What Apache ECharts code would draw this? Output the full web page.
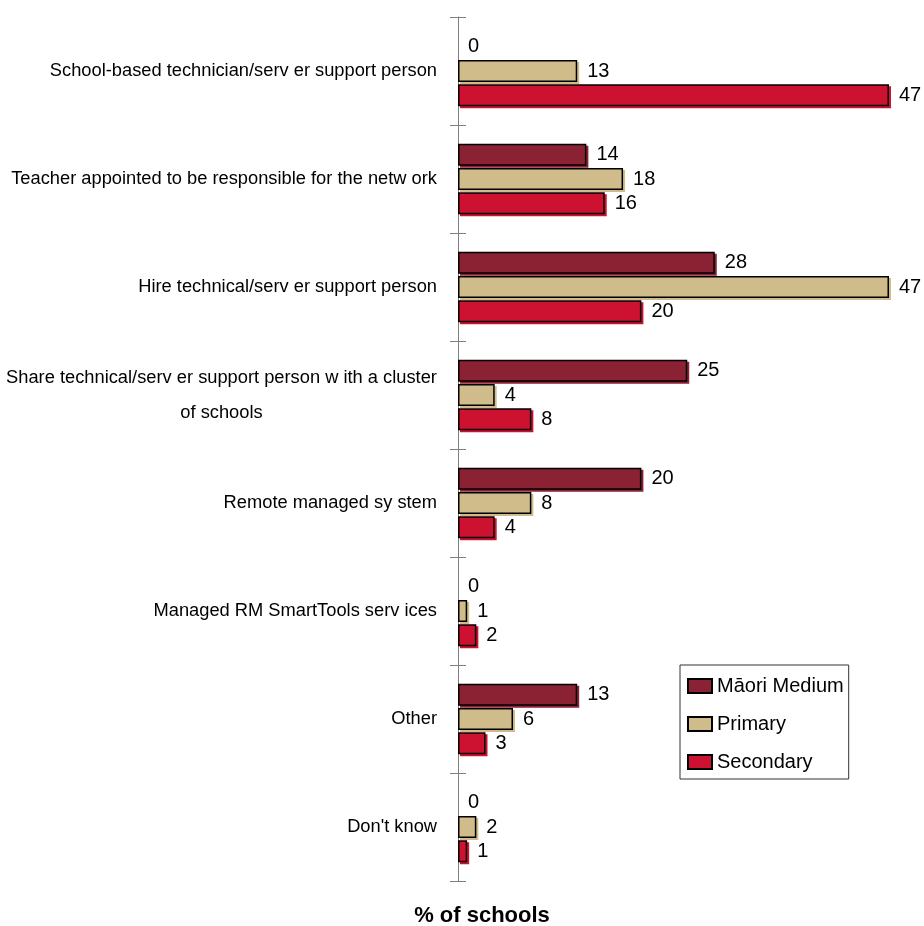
<!DOCTYPE html>
<html>
<head>
<meta charset="utf-8">
<script src="https://cdn.jsdelivr.net/npm/echarts@6/dist/echarts.min.js"></script>
<style>
  html, body { margin: 0; padding: 0; background: #fff; }
  #chart { width: 924px; height: 926px; }
</style>
</head>
<body>
<div id="chart"></div>
<script>
// Categories, top to bottom
const categories = [
  'School-based technician/serv er support person',
  'Teacher appointed to be responsible for the netw ork',
  'Hire technical/serv er support person',
  'Share technical/serv er support person w ith a cluster\nof schools',
  'Remote managed sy stem',
  'Managed RM SmartTools serv ices',
  'Other',
  "Don't know"
];

// % of schools per group
const maoriMedium = [0, 14, 28, 25, 20, 0, 13, 0];
const primary     = [13, 18, 47, 4, 8, 1, 6, 2];
const secondary   = [47, 16, 20, 8, 4, 2, 3, 1];

const seriesNames = ['Māori Medium', 'Primary', 'Secondary'];
const seriesColors = ['#8B2233', '#CFBC8A', '#CD1231'];

const FONT = "'Liberation Sans', Arial, Helvetica, sans-serif";
const CAT_FONT_SIZE = 18.3;

// Zero-valued bars carry no outline so nothing is drawn for them
function toData(values) {
  return values.map(v => v === 0
    ? { value: 0, itemStyle: { borderWidth: 0, shadowColor: 'rgba(0,0,0,0)' } }
    : v);
}

function makeSeries(name, values, color) {
  return {
    name: name,
    type: 'bar',
    data: toData(values),
    barWidth: 22,
    barGap: '10%',
    itemStyle: {
      color: color,
      borderColor: '#000',
      borderWidth: 1.5,
      shadowColor: color,
      shadowOffsetX: 2,
      shadowOffsetY: 2,
      shadowBlur: 0
    },
    label: {
      show: true,
      position: 'right',
      distance: 10,
      color: '#000',
      fontFamily: FONT,
      fontSize: 20
    },
    emphasis: { disabled: true }
  };
}

const chart = echarts.init(document.getElementById('chart'), null, { renderer: 'canvas' });

const axisLineStyle = { color: '#808080', width: 1 };

chart.setOption({
  animation: false,
  backgroundColor: '#fff',
  title: {
    text: '% of schools',
    left: 482,
    top: 905,
    padding: 0,
    textAlign: 'center',
    textStyle: { fontFamily: FONT, fontSize: 22, fontWeight: 'bold', color: '#000' }
  },
  legend: {
    orient: 'vertical',
    left: 680,
    top: 665,
    data: seriesNames,
    icon: 'rect',
    itemWidth: 24,
    itemHeight: 14,
    itemGap: 18,
    itemTextGap: 6,
    padding: [11, 5, 7, 7],
    borderColor: '#333',
    borderWidth: 1,
    textStyle: { fontFamily: FONT, fontSize: 20, color: '#000', lineHeight: 20 },
    selectedMode: false
  },
  grid: {
    left: 458,
    top: 17,
    width: 458.5,
    height: 864,
    containLabel: false
  },
  xAxis: {
    type: 'value',
    min: 0,
    max: 50,
    show: false
  },
  yAxis: [
    {
      type: 'category',
      inverse: true,
      data: categories,
      axisLine: { show: true, lineStyle: axisLineStyle },
      axisTick: { show: true, length: 8, lineStyle: axisLineStyle },
      axisLabel: {
        margin: 21,
        color: '#000',
        fontFamily: FONT,
        fontSize: CAT_FONT_SIZE,
        formatter: function (value) {
          if (value.indexOf('\n') < 0) return value;
          const parts = value.split('\n');
          return '{a|' + parts[0] + '}\n{b|' + parts[1] + '}';
        },
        rich: {
          a: { fontFamily: FONT, fontSize: CAT_FONT_SIZE, color: '#000', lineHeight: 35, width: 431, align: 'center' },
          b: { fontFamily: FONT, fontSize: CAT_FONT_SIZE, color: '#000', lineHeight: 35, width: 431, align: 'center' }
        }
      },
      splitLine: { show: false }
    },
    {
      // Mirror axis giving the ticks that cross to the right of the line
      type: 'category',
      inverse: true,
      position: 'left',
      data: categories,
      axisLine: { show: false },
      axisTick: { show: true, inside: true, length: 8, lineStyle: axisLineStyle },
      axisLabel: { show: false },
      splitLine: { show: false }
    }
  ],
  series: [
    makeSeries(seriesNames[0], maoriMedium, seriesColors[0]),
    makeSeries(seriesNames[1], primary, seriesColors[1]),
    makeSeries(seriesNames[2], secondary, seriesColors[2])
  ]
});
</script>
</body>
</html>
